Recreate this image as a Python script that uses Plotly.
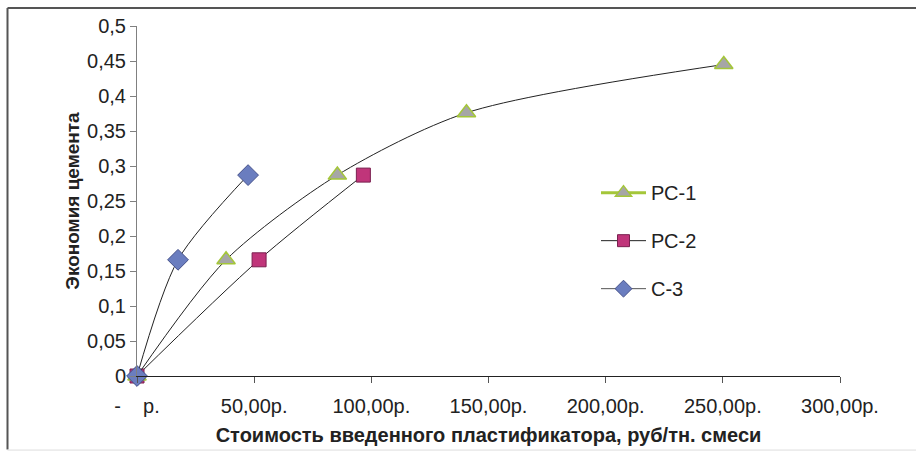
import plotly.graph_objects as go

# Data
pc1_x = [0, 38, 85.5, 140.6, 250.4]
pc1_y = [0, 0.166, 0.287, 0.376, 0.445]
pc2_x = [0, 52.1, 96.6]
pc2_y = [0, 0.166, 0.287]
c3_x = [0, 17.5, 47.4]
c3_y = [0, 0.166, 0.287]

x_tickvals = [0, 50, 100, 150, 200, 250, 300]
x_ticktext = ["-\u00a0\u00a0\u00a0\u00a0р.", "50,00р.", "100,00р.", "150,00р.", "200,00р.", "250,00р.", "300,00р."]
y_tickvals = [0, 0.05, 0.1, 0.15, 0.2, 0.25, 0.3, 0.35, 0.4, 0.45, 0.5]
y_ticktext = ["0", "0,05", "0,1", "0,15", "0,2", "0,25", "0,3", "0,35", "0,4", "0,45", "0,5"]

names = ["РС-1", "РС-2", "С-3"]

W, H = 916, 454
L, R, T, B = 137, 76, 26, 76

FONT = "Liberation Sans, Arial, sans-serif"

tri = dict(symbol="triangle-up", size=16, color="#A6A6A6", line=dict(color="#A4C639", width=1.5))
sq = dict(symbol="square", size=14, color="#C0357A", line=dict(color="#7A2050", width=1))
dia = dict(symbol="diamond", size=16, color="#6A7DBF", line=dict(color="#44508A", width=1))

fig = go.Figure()
line_style = dict(color="#222222", width=1, shape="spline", smoothing=0.8)
fig.add_trace(go.Scatter(x=pc2_x, y=pc2_y, mode="lines+markers", line=line_style, marker=sq,
                         showlegend=False, cliponaxis=False))
fig.add_trace(go.Scatter(x=pc1_x, y=pc1_y, mode="lines+markers", line=line_style, marker=tri,
                         showlegend=False, cliponaxis=False))
fig.add_trace(go.Scatter(x=c3_x, y=c3_y, mode="lines+markers", line=line_style, marker=dia,
                         showlegend=False, cliponaxis=False))

# legend entries
leg_tri = dict(tri, size=14)
leg_sq = dict(sq, size=12)
leg_dia = dict(dia, size=13)
fig.add_trace(go.Scatter(x=[None], y=[None], mode="lines+markers", name=names[0],
                         line=dict(color="#A4C639", width=3), marker=leg_tri, legendgroup="a"))
fig.add_trace(go.Scatter(x=[None], y=[None], mode="lines+markers", name=names[1],
                         line=dict(color="#222222", width=1), marker=leg_sq, legendgroup="b"))
fig.add_trace(go.Scatter(x=[None], y=[None], mode="lines+markers", name=names[2],
                         line=dict(color="#555555", width=1), marker=leg_dia, legendgroup="c"))

pw = W - L - R
ph = H - T - B
def px(x):
    return (x - L) / pw
def py(y):
    return (H - B - y) / ph

fig.update_layout(
    width=W, height=H,
    margin=dict(l=L, r=R, t=T, b=B),
    paper_bgcolor="white", plot_bgcolor="white",
    font=dict(family=FONT, size=20, color="#222222"),
    showlegend=True,
    legend=dict(x=px(596), y=py(174), xanchor="left", yanchor="top",
                font=dict(size=20, family=FONT), tracegroupgap=19, itemwidth=45,
                bgcolor="rgba(0,0,0,0)"),
    xaxis=dict(range=[0, 300], tickvals=x_tickvals, ticktext=x_ticktext,
               showgrid=False, zeroline=False, showline=True, linecolor="#222222", linewidth=1,
               ticks="outside", ticklen=6, tickcolor="#555555", ticklabelstandoff=6,
               title=dict(text="<b>Стоимость введенного пластификатора, руб/тн. смеси</b>",
                          font=dict(size=20), standoff=11)),
    yaxis=dict(range=[0, 0.5], tickvals=y_tickvals, ticktext=y_ticktext,
               showgrid=False, zeroline=False, showline=True, linecolor="#808080", linewidth=1,
               ticks="outside", ticklen=6, tickcolor="#808080",
               title=dict(text="<b>Экономия цемента</b>", font=dict(size=19), standoff=2)),
    shapes=[
        dict(type="line", xref="paper", yref="paper", x0=px(7.5), x1=px(916), y0=py(8), y1=py(8),
             line=dict(color="#555555", width=2)),
        dict(type="line", xref="paper", yref="paper", x0=px(7.5), x1=px(7.5), y0=py(8), y1=py(452),
             line=dict(color="#555555", width=2)),
        dict(type="line", xref="paper", yref="paper", x0=px(7.5), x1=px(916), y0=py(452.5), y1=py(452.5),
             line=dict(color="#DDDDDD", width=1)),
    ],
)

fig.write_html("out.html")
